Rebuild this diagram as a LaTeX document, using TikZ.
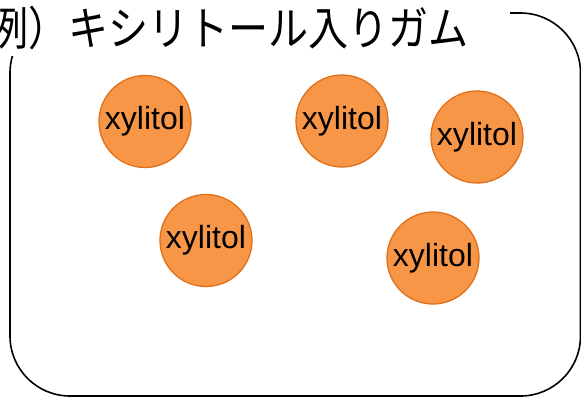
\documentclass[tikz,border=0pt]{standalone}
\usepackage{fontspec}
\setmainfont{Liberation Sans}
\newfontfamily\jpfont{Noto Sans CJK JP}
\definecolor{ballfill}{HTML}{F79646}
\definecolor{ballline}{HTML}{E0701A}
\begin{document}
\begin{tikzpicture}[x=1bp,y=-1bp,
  ball/.style={circle,draw=ballline,line width=1.3bp,fill=ballfill,minimum size=92bp,inner sep=0pt,
    font=\fontsize{32bp}{36bp}\selectfont,text=black},
  frame/.style={draw=black,line width=1.6bp,rounded corners=60bp}]
\useasboundingbox (0,0) rectangle (581,397);
\draw[frame] (10,13) rectangle (580.5,396);
\node[anchor=base west,fill=white,inner xsep=42bp,inner ysep=6.5bp,
  font=\jpfont\fontsize{46bp}{52bp}\selectfont] (title) at (-54,45) {\scalebox{0.87}[1]{例）キシリトール入りガム}};
\node[ball] (b1) at (145,121.5) {xylitol};
\node[ball] (b2) at (342,121) {xylitol};
\node[ball] (b3) at (477,137) {xylitol};
\node[ball] (b4) at (206,240.5) {xylitol};
\node[ball] (b5) at (433,258) {xylitol};
\end{tikzpicture}
\end{document}
